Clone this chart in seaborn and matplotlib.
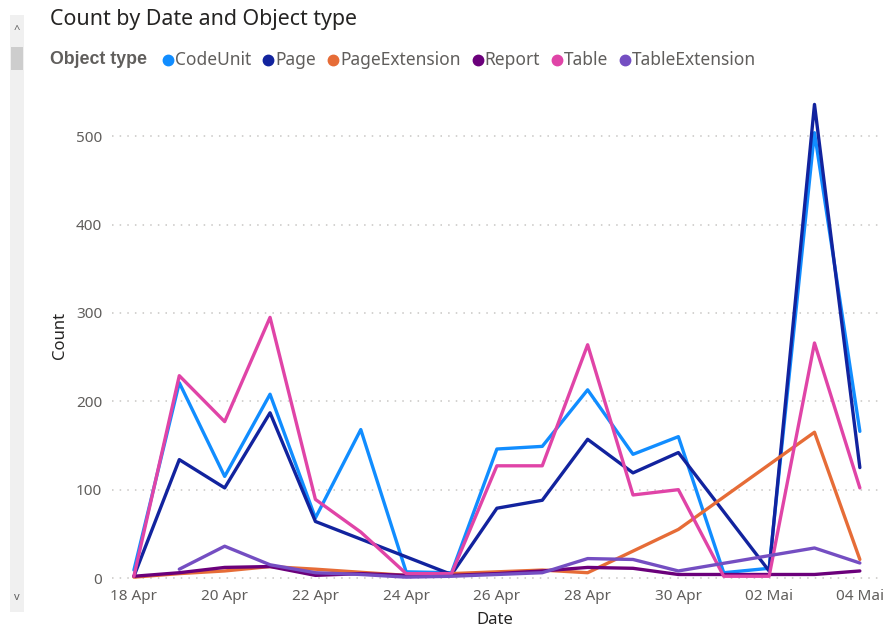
import numpy as np
import pandas as pd
import matplotlib
matplotlib.use('Agg')
import matplotlib.pyplot as plt
from matplotlib.lines import Line2D
from matplotlib.patches import Rectangle
import seaborn as sns

# Daten: eine Zeile pro Tag (18 Apr - 04 Mai), NaN = kein Wert an dem Tag
dates = pd.date_range('2024-04-18', '2024-05-04', freq='D')
x_tick_labels = ['18 Apr', '20 Apr', '22 Apr', '24 Apr', '26 Apr',
                 '28 Apr', '30 Apr', '02 Mai', '04 Mai']
y_ticks = [0, 100, 200, 300, 400, 500]

object_types = ['CodeUnit', 'Page', 'PageExtension', 'Report', 'Table', 'TableExtension']
colors = ['#118DFF', '#12239E', '#E66C37', '#6B007B', '#E044A7', '#744EC2']

code_unit = [9, 221, 115, 208, 68, 168, 7, 6, 146, 149, 213, 140, 160, 6, 11, 504, 166]
page = [2, 134, 102, 187, 64, np.nan, np.nan, 4, 79, 88, 157, 119, 142, np.nan, 8, 536, 125]
page_extension = [1, 5, 8, 13, 10, np.nan, 3, 5, 7, 9, 6, np.nan, 55, np.nan, np.nan, 165, 21]
report = [2, 6, 12, 13, 3, 5, 3, 3, 5, 8, 12, 11, 4, 4, 4, 4, 8]
table = [2, 229, 177, 295, 89, 52, 5, 5, 127, 127, 264, 94, 100, 2, 2, 266, 102]
table_extension = [np.nan, 10, 36, 15, 6, 4, 1, 2, 4, 6, 22, 21, 8, np.nan, np.nan, 34, 17]

all_series = [code_unit, page, page_extension, report, table, table_extension]

df = pd.DataFrame({
    'Date': np.tile(dates, len(object_types)),
    'Count': np.concatenate(all_series),
    'Object type': np.repeat(object_types, len(dates)),
}).dropna()

sns.set_style('white')
plt.rcParams['font.family'] = ['Noto Sans', 'DejaVu Sans']

W, H = 884, 628
fig = plt.figure(figsize=(W / 100, H / 100), dpi=100)

def fx(px):
    return px / W

def fy(py):
    return 1 - py / H

# Plotbereich in Pixeln: links 112, rechts 878, oben 100, unten 582
ax = fig.add_axes([fx(112), fy(582), fx(878) - fx(112), fy(100) - fy(582)])

sns.lineplot(data=df, x='Date', y='Count', hue='Object type',
             hue_order=object_types, palette=colors, linewidth=2.4,
             estimator=None, legend=False, ax=ax)

ax.set_ylim(-4.5, 541)
ax.set_xlim(dates[0] - pd.Timedelta(hours=11.6), dates[0] + pd.Timedelta(days=16.4))
ax.set_yticks(y_ticks)
ax.set_yticklabels([str(v) for v in y_ticks])
ax.set_xticks(dates[::2])
ax.set_xticklabels(x_tick_labels)
ax.tick_params(axis='both', length=0, labelsize=11, labelcolor='#605E5C')
ax.tick_params(axis='y', pad=7)
ax.tick_params(axis='x', pad=5)
ax.set_xlabel('')
ax.set_ylabel('')
ax.yaxis.grid(True, linestyle=(0, (1, 4)), color='#C8C6C4', linewidth=1.1)
ax.xaxis.grid(False)
for s in ax.spines.values():
    s.set_visible(False)

# Achsentitel
fig.text(fx(60), fy(335), 'Count', rotation=90, ha='center', va='center',
         fontsize=12, color='#252423')
fig.text(fx(495), fy(620), 'Date', ha='center', va='center',
         fontsize=12, color='#252423')

# Titel
fig.text(fx(50), fy(20), 'Count by Date and Object type', ha='left', va='center',
         fontsize=15.4, color='#252423')

# Legende
renderer = fig.canvas.get_renderer()
ly = fy(60)
t = fig.text(fx(50), ly, 'Object type', ha='left', va='center', fontsize=12.8,
             fontweight='bold', family=['Liberation Sans', 'DejaVu Sans'],
             color='#605E5C')
x = 50 + t.get_window_extent(renderer).width + 16
for name, c in zip(object_types, colors):
    fig.add_artist(Line2D([fx(x + 5)], [ly], marker='o', markersize=7.5, color=c,
                          linestyle='none', transform=fig.transFigure))
    t = fig.text(fx(x + 12), ly, name, ha='left', va='center', fontsize=12.5,
                 color='#605E5C')
    x = x + 12 + t.get_window_extent(renderer).width + 12

# Scrollleiste links
fig.add_artist(Rectangle((fx(10), fy(612)), fx(24) - fx(10), fy(15) - fy(612),
                         transform=fig.transFigure, color='#F0F0F0', lw=0))
fig.add_artist(Rectangle((fx(11), fy(70)), fx(23) - fx(11), fy(47) - fy(70),
                         transform=fig.transFigure, color='#CDCDCD', lw=0))
fig.text(fx(17), fy(31), '^', ha='center', va='center', fontsize=8, color='#606060')
fig.text(fx(17), fy(598), 'v', ha='center', va='center', fontsize=8, color='#606060')

fig.savefig('out.png', dpi=100)
